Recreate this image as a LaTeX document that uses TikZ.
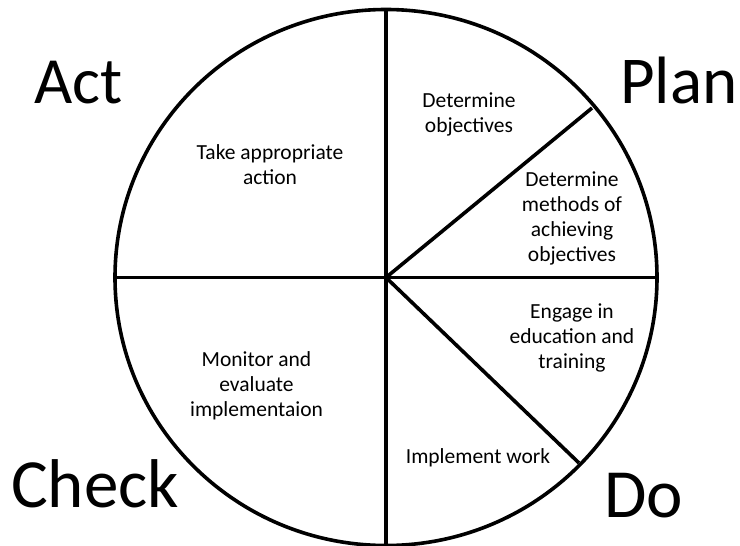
\documentclass[tikz,border=0pt]{standalone}
\usepackage{fontspec}
\setmainfont{Carlito}
\begin{document}
\begin{tikzpicture}[x=1pt,y=-1pt,
  seg/.style={line width=3.6pt, black},
  small/.style={font=\fontsize{21.5}{25}\selectfont, align=center, inner sep=0pt, anchor=center},
  big/.style={inner sep=0pt, anchor=base west}]
\useasboundingbox (0,0) rectangle (740,546);
\fill[white] (0,0) rectangle (740,546);
\coordinate (O) at (386,277.5);
\coordinate (T) at (386,9.5);
\coordinate (B) at (386,545.5);
\coordinate (L) at (115,277.5);
\coordinate (R) at (657,277.5);
\coordinate (P1) at (592,108);
\coordinate (P2) at (579,463);
\draw[seg] (O) ellipse [x radius=271, y radius=268];
\draw[seg] (T) -- (B);
\draw[seg] (L) -- (R);
\draw[seg] (O) -- (P1);
\draw[seg] (O) -- (P2);
\node[small] (n1) at (469,114.5) {Determine\\objectives};
\node[small] (n2) at (270,165) {Take appropriate\\action};
\node[small] (n3) at (572,218.5) {Determine\\methods of\\achieving\\objectives};
\node[small] (n4) at (572,337.5) {Engage in\\education and\\training};
\node[small] (n5) at (256.5,385.5) {Monitor and\\evaluate\\implementaion};
\node[small] (n6) at (478,458) {Implement work};
\node[big, font=\fontsize{66}{70}\selectfont] (act) at (34,103) {Act};
\node[big, font=\fontsize{67}{70}\selectfont] (plan) at (620,103) {Plan};
\node[big, font=\fontsize{69}{72}\selectfont] (check) at (11,507) {Check};
\node[big, font=\fontsize{69}{72}\selectfont] (do) at (604,517) {Do};
\end{tikzpicture}
\end{document}
